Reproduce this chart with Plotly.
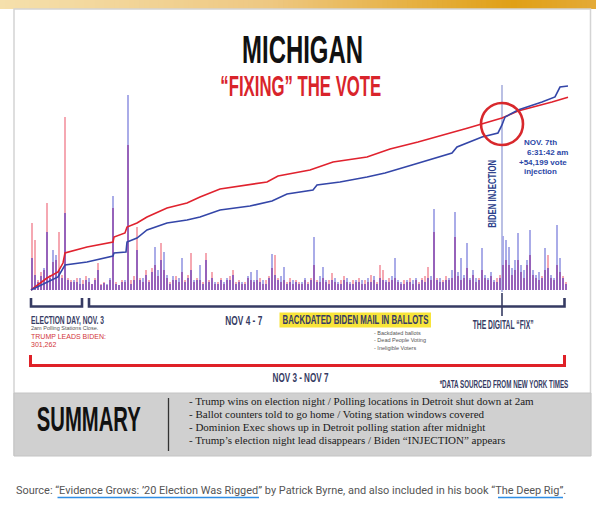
import plotly.graph_objects as go

W, H = 596, 507

# Cumulative tallies (thousands of votes) along the count sequence
red_x = [0, 16, 27, 32, 34, 56, 82, 83, 94, 96, 106, 116, 136, 156, 169, 189,
         236, 247, 279, 302, 336, 359, 387, 404, 437, 471, 487, 521, 537]
red_y = [0, 165, 248, 371, 509, 591, 660, 729, 784, 866, 921, 1004, 1128, 1196,
         1279, 1389, 1485, 1568, 1650, 1760, 1829, 1939, 2035, 2104, 2228, 2365,
         2461, 2585, 2650]
blue_x = [0, 16, 27, 34, 56, 82, 83, 95, 96, 106, 116, 136, 156, 169, 189, 219,
          241, 256, 282, 286, 309, 336, 354, 381, 421, 426, 451, 467, 471, 474,
          487, 511, 524, 529, 537]
blue_y = [0, 110, 179, 344, 385, 468, 509, 523, 660, 715, 825, 921, 963, 1004,
          1100, 1155, 1224, 1320, 1375, 1444, 1485, 1554, 1609, 1719, 1884, 1966,
          2104, 2159, 2269, 2379, 2475, 2585, 2654, 2791, 2804]

# Per-batch increments (thousands of votes), one batch every 3 steps
batch_red = [67, 50, 10, 18, 20, 87, 15, 28, 30, 58, 15, 173, 12, 10, 8, 12, 6, 10,
             14, 8, 6, 12, 27, 6, 8, 5, 10, 82, 8, 5, 10, 8, 145, 10, 14, 63, 12, 8,
             20, 10, 22, 25, 14, 47, 20, 12, 8, 10, 14, 8, 18, 10, 15, 37, 8, 12, 10,
             8, 37, 10, 18, 6, 8, 12, 6, 10, 14, 20, 8, 10, 6, 8, 12, 10, 8, 10, 12,
             6, 10, 14, 22, 35, 12, 8, 10, 8, 12, 6, 10, 8, 6, 10, 8, 12, 25, 10, 8,
             12, 8, 10, 17, 8, 6, 10, 14, 8, 6, 10, 8, 12, 6, 10, 8, 15, 10, 8, 25,
             20, 8, 12, 10, 12, 8, 6, 10, 8, 12, 6, 10, 8, 12, 14, 23, 10, 58, 12, 8,
             10, 14, 10, 12, 53, 14, 10, 12, 22, 10, 15, 8, 12, 20, 12, 10, 14, 8, 12,
             15, 25, 30, 25, 15, 20, 30, 18, 12, 25, 35, 15, 12, 10, 14, 20, 35, 12,
             10, 25, 18, 14, 8]
batch_blue = [32, 15, 8, 14, 22, 58, 12, 40, 35, 20, 12, 77, 10, 8, 10, 8, 12, 6,
              10, 12, 6, 10, 20, 5, 7, 6, 12, 94, 6, 5, 8, 10, 195, 6, 10, 40, 10,
              12, 15, 8, 18, 43, 20, 30, 38, 15, 6, 14, 10, 12, 32, 8, 12, 20, 10,
              10, 25, 6, 30, 8, 12, 8, 6, 10, 8, 12, 10, 15, 6, 8, 8, 6, 14, 18, 10,
              20, 8, 10, 6, 12, 36, 15, 10, 14, 23, 6, 8, 10, 8, 6, 8, 12, 6, 10, 53,
              8, 14, 23, 10, 6, 10, 12, 8, 6, 10, 12, 8, 6, 10, 8, 10, 6, 12, 8, 14,
              6, 12, 10, 10, 8, 14, 32, 10, 8, 6, 10, 8, 10, 12, 6, 10, 8, 12, 14, 81,
              10, 12, 8, 10, 12, 20, 78, 18, 32, 15, 47, 12, 20, 12, 10, 42, 15, 12,
              18, 10, 8, 12, 54.199, 50, 43, 22, 30, 57, 25, 20, 30, 60, 20, 15, 18,
              12, 42, 22, 15, 12, 65, 32, 12, 6]
batch_x = [1 + 3 * i for i in range(len(batch_red))]
batch_shared = [min(r, b) for r, b in zip(batch_red, batch_blue)]

injection_x = 471          # Nov 7th, 6:31:42 am
injection_votes = 54.199   # thousands

bullets = [
    "- Trump wins on election night / Polling locations in Detroit shut down at 2am",
    "- Ballot counters told to go home / Voting station windows covered",
    "- Dominion Exec shows up in Detroit polling station after midnight",
    "- Trump\u2019s election night lead disappears / Biden \u201cINJECTION\u201d appears",
]
fraud_list = ["- Backdated ballots", "- Dead People Voting", "- Ineligible Voters"]

NAVY = "#363b63"
RED = "#df2128"
BLUE_TXT = "#2b47a6"
COND = "Liberation Sans Narrow, Arial Narrow, Liberation Sans, Arial, sans-serif"


def X(p):
    return p / W


def Y(p):
    return 1 - p / H


fig = go.Figure()

BAR_W = 1.8
fig.add_bar(x=batch_x, y=batch_blue, width=BAR_W, marker=dict(color="rgb(170,172,232)", line_width=0))
fig.add_bar(x=batch_x, y=batch_red, width=BAR_W, marker=dict(color="rgb(245,168,178)", line_width=0))
fig.add_bar(x=batch_x, y=batch_shared, width=BAR_W, marker=dict(color="rgb(150,98,186)", line_width=0))
fig.add_scatter(x=red_x, y=red_y, yaxis="y2", mode="lines",
                line=dict(color="#e0222e", width=1.6))
fig.add_scatter(x=blue_x, y=blue_y, yaxis="y2", mode="lines",
                line=dict(color="#3446a8", width=1.6))

shapes = []

# golden gradient strip along the top
c_stops = [(0.0, (245, 224, 172)), (0.45, (238, 200, 130)), (0.86, (224, 160, 22)), (1.0, (228, 170, 55))]


def grad(t):
    for (t0, c0), (t1, c1) in zip(c_stops[:-1], c_stops[1:]):
        if t <= t1:
            f = (t - t0) / (t1 - t0)
            return "rgb(%d,%d,%d)" % tuple(round(a + (b - a) * f) for a, b in zip(c0, c1))
    return "rgb(%d,%d,%d)" % c_stops[-1][1]


n = 120
for k in range(n):
    shapes.append(dict(type="rect", xref="paper", yref="paper", layer="below",
                       x0=k / n, x1=(k + 1) / n + 0.002, y0=Y(9), y1=1,
                       fillcolor=grad((k + 0.5) / n), line_width=0))

# card outline and summary panel
shapes.append(dict(type="rect", xref="paper", yref="paper", layer="below",
                   x0=X(14), x1=X(590.5), y0=Y(455), y1=Y(9),
                   fillcolor="white", line=dict(color="#d4d4d4", width=1.5)))
shapes.append(dict(type="rect", xref="paper", yref="paper", layer="below",
                   x0=X(14), x1=X(591), y0=Y(456), y1=Y(393),
                   fillcolor="#d0d0d0", line=dict(color="#c4c4c4", width=1)))
shapes.append(dict(type="line", xref="paper", yref="paper",
                   x0=X(168.5), x1=X(168.5), y0=Y(398), y1=Y(451),
                   line=dict(color="#333333", width=1.3)))

# injection marker line and circle
shapes.append(dict(type="line", xref="x", yref="paper", layer="below",
                   x0=injection_x, x1=injection_x, y0=Y(292), y1=Y(85),
                   line=dict(color="#a9b0de", width=1.6)))
shapes.append(dict(type="circle", xref="x", yref="paper",
                   x0=injection_x - 21, x1=injection_x + 21, y0=Y(145), y1=Y(103),
                   line=dict(color="#d8282c", width=2.6)))


# navy period brackets
def bracket(x0, x1, ytop, ybot, color, w):
    return dict(type="path", xref="paper", yref="paper",
                path="M %f,%f L %f,%f L %f,%f L %f,%f" % (X(x0), Y(ytop), X(x0), Y(ybot),
                                                          X(x1), Y(ybot), X(x1), Y(ytop)),
                line=dict(color=color, width=w))


shapes.append(bracket(31, 82, 298, 306.5, NAVY, 2.6))
shapes.append(bracket(89, 564.5, 298, 306.5, NAVY, 2.6))
shapes.append(dict(type="line", xref="paper", yref="paper", x0=X(502), x1=X(502),
                   y0=Y(293), y1=Y(316), line=dict(color=NAVY, width=1.6)))
shapes.append(bracket(30.5, 564.5, 355, 365.5, RED, 3))

# yellow highlight
shapes.append(dict(type="rect", xref="paper", yref="paper", layer="below",
                   x0=X(279.5), x1=X(431), y0=Y(327.5), y1=Y(312.5),
                   fillcolor="#f8e43a", line_width=0))

# link underlines in the source line
shapes.append(dict(type="line", xref="paper", yref="paper", x0=X(57.5), x1=X(259),
                   y0=Y(497.5), y1=Y(497.5), line=dict(color="#2f8de4", width=1.5)))
shapes.append(dict(type="line", xref="paper", yref="paper", x0=X(498), x1=X(563),
                   y0=Y(497.5), y1=Y(497.5), line=dict(color="#2f8de4", width=1.5)))

annotations = []


def note(text, x, y, size, color, family="Liberation Sans, Arial, sans-serif",
         xanchor="center", width=None, weight=400, angle=0):
    a = dict(text=text, x=X(x), y=Y(y), xref="paper", yref="paper", showarrow=False,
             xanchor=xanchor, yanchor="middle", textangle=angle,
             font=dict(size=size, color=color, family=family, weight=weight))
    if width:
        a["name"] = "w=%g" % width
    annotations.append(a)


note("MICHIGAN", 302, 49.5, 39, "#111111", COND, width=121, weight=700)
note("\u201cFIXING\u201d THE VOTE", 301, 85.5, 29.5, "#d9242b", COND, width=161, weight=700)

note("BIDEN INJECTION", 492, 194, 11.5, "#2d3f8c", COND, width=68, weight=700, angle=-90)
note("NOV. 7th", 522, 142, 8, BLUE_TXT, xanchor="left", weight=700)
note("6:31:42 am", 525, 152, 8, BLUE_TXT, xanchor="left", weight=700)
note("+54,199 vote", 517, 162, 8, BLUE_TXT, xanchor="left", weight=700)
note("injection", 522, 172, 8, BLUE_TXT, xanchor="left", weight=700)

note("ELECTION DAY, NOV. 3", 29, 319.5, 11.5, NAVY, COND, xanchor="left", width=73, weight=700)
note("2am Polling Stations Close.", 29, 328, 5.5, "#555555", xanchor="left")
note("TRUMP LEADS BIDEN:", 29, 336, 7, "#d2363a", xanchor="left")
note("301,262", 29, 344, 7, "#d2363a", xanchor="left")

note("NOV 4 - 7", 243.5, 320.5, 12.5, NAVY, COND, width=37, weight=700)
note("BACKDATED BIDEN MAIL IN BALLOTS", 355.5, 320, 12.5, NAVY, COND, width=146, weight=700)
for i, t in enumerate(fraud_list):
    note(t, 372, 333 + 7.3 * i, 5.5, "#555555", xanchor="left")
note("THE DIGITAL \u201cFIX\u201d", 503, 325, 12, NAVY, COND, width=61, weight=700)

note("NOV 3 - NOV 7", 300.5, 377, 13.5, NAVY, COND, width=56, weight=700)
note("*DATA SOURCED FROM NEW YORK TIMES", 503.5, 384.5, 10, NAVY, COND, width=129, weight=700)

note("SUMMARY", 89, 418, 35, "#111111", COND, width=104, weight=700)
for i, t in enumerate(bullets):
    note(t, 187, 401 + 13 * i, 11, "#1a1a1a", "Liberation Serif, Times New Roman, serif",
         xanchor="left")

note("Source: \u201cEvidence Grows: \u201920 Election Was Rigged\u201d by Patrick Byrne, "
     "and also included in his book \u201cThe Deep Rig\u201d.",
     14, 490, 10.95, "#555555", "Roboto, sans-serif", xanchor="left")

fig.update_layout(
    width=W, height=H, autosize=False,
    margin=dict(l=0, r=0, t=0, b=0),
    paper_bgcolor="white", plot_bgcolor="rgba(0,0,0,0)",
    showlegend=False, barmode="overlay", bargap=0,
    xaxis=dict(range=[-31, 565], visible=False, fixedrange=True),
    yaxis=dict(range=[-217, 290], visible=False, fixedrange=True),
    yaxis2=dict(range=[-2983.75, 3987.5], overlaying="y", visible=False, fixedrange=True),
    shapes=shapes, annotations=annotations,
)

# squeeze the poster headings to their condensed widths
condense_js = """
var gd = document.getElementById('{plot_id}');
gd.querySelectorAll('g.annotation').forEach(function (g) {
  var i = +g.getAttribute('data-index');
  var ann = gd.layout.annotations[i];
  if (!ann || !ann.name || ann.name.indexOf('w=') !== 0) return;
  var target = parseFloat(ann.name.slice(2));
  var t = g.querySelector('text.annotation-text');
  if (!t) return;
  var bb = t.getBBox();
  if (!bb.width) return;
  var sx = target / bb.width;
  var ax = bb.x + bb.width / 2;
  if (ann.xanchor === 'left') ax = bb.x;
  if (ann.xanchor === 'right') ax = bb.x + bb.width;
  t.setAttribute('transform', 'translate(' + ax + ',0) scale(' + sx + ',1) translate(' + (-ax) + ',0)');
});
"""

fig.write_html("out.html", config={"displayModeBar": False}, post_script=condense_js)
